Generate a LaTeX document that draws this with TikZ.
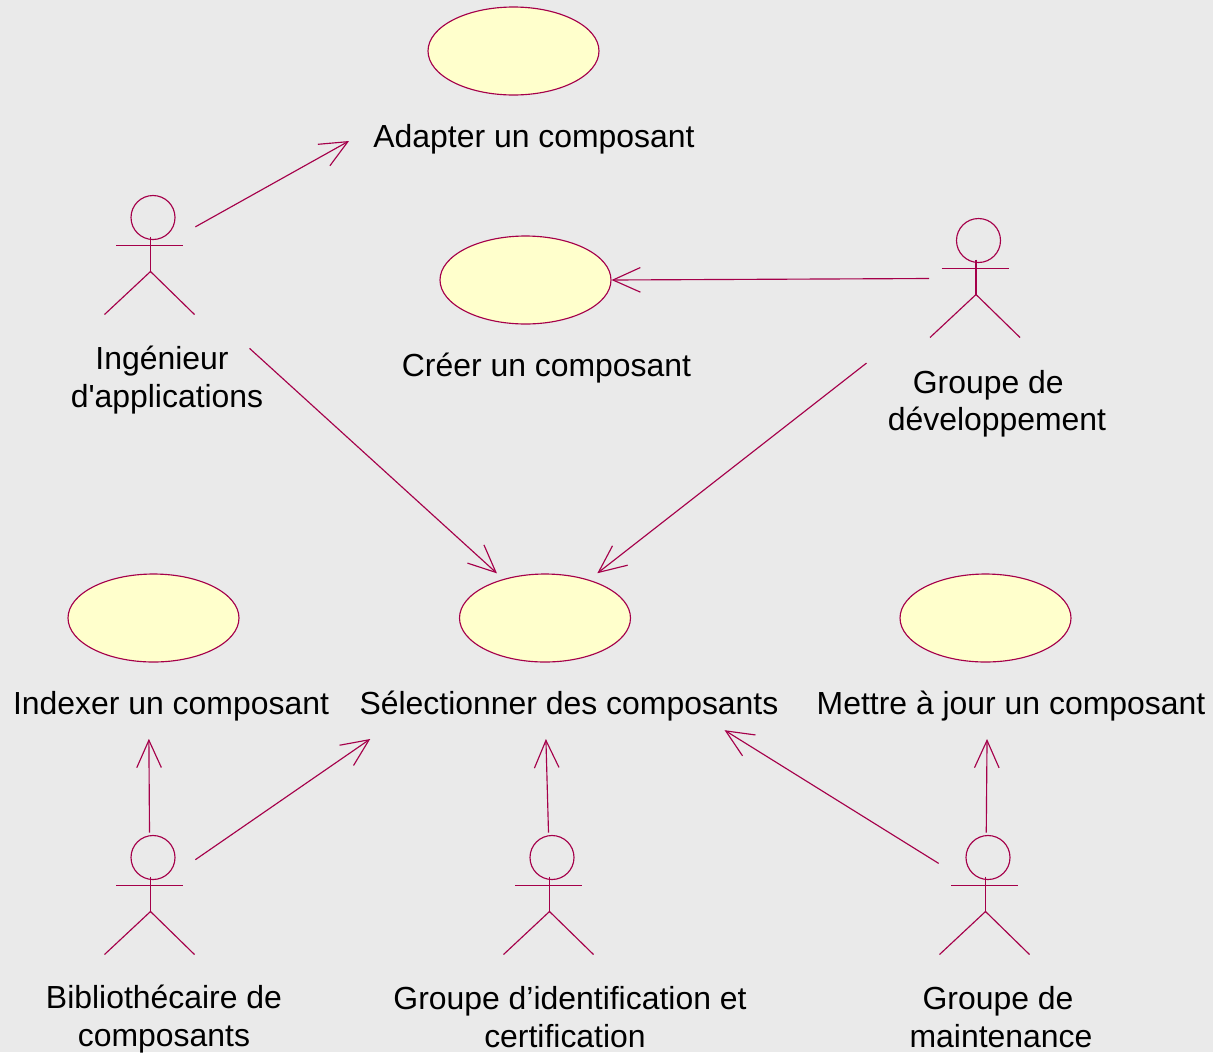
\documentclass[tikz,border=0pt]{standalone}
\usepackage{fontspec}
\setmainfont{Liberation Sans}
\usepackage{xcolor}
\usetikzlibrary{arrows.meta,shapes.geometric}
\definecolor{umlred}{HTML}{A5004A}
\definecolor{umlyellow}{HTML}{FFFFCC}
\definecolor{umlgrey}{HTML}{EAEAEA}
\tikzset{
  umlline/.style={draw=umlred,line width=0.65pt},
  assoc/.style={umlline,-{Straight Barb[length=15.6pt,width=14pt]}},
  usecase/.style={ellipse,umlline,fill=umlyellow,minimum width=3.42cm,minimum height=1.76cm,inner sep=0pt},
  actorbox/.style={minimum width=1.82cm,minimum height=2.38cm,inner sep=0pt,outer ysep=2pt},
  lbl/.style={font=\fontsize{18.17}{21.2}\selectfont,align=center,inner xsep=26*0.5692pt,inner ysep=10pt}
}
\begin{document}
\begin{tikzpicture}[x=0.02cm,y=-0.02cm]
\fill[umlgrey] (0,0) rectangle (1213,1052);
\useasboundingbox (0,0) rectangle (1213,1052);
% use cases
\foreach \n/\x/\y in {adapter/513.5/51, creer/525.5/280, indexer/153.5/618, selection/545/618, mettre/985.5/618}
    \node[usecase] (\n) at (\x,\y) {};
% actors
\foreach \n/\x/\y in {ingenieur/149.5/255.5, developpement/975/278.5, bibliothecaire/149.5/895.5, identification/548.5/895.5, maintenance/984.5/895.5} {
    \node[actorbox] (\n) at (\x,\y) {};
    \draw[umlline] (\x+3.5,\y-38) circle (22);
    \draw[umlline] (\x+1,\y-19) -- (\x+1,\y+16);
    \draw[umlline] (\x-33.5,\y-10) -- (\x+33.5,\y-10);
    \draw[umlline] (\x-45,\y+59) -- (\x+1,\y+16) -- (\x+45,\y+59);
}
% labels
\node[lbl] (adapterlbl) at (534,139) {Adapter un composant};
\node[lbl] (creerlbl) at (546.5,368) {Créer un composant};
\node[lbl] (indexerlbl) at (171,706) {Indexer un composant};
\node[lbl] (selectionlbl) at (569,706) {Sélectionner des composants};
\node[lbl] (mettrelbl) at (1011,706) {Mettre à jour un composant};
\node[lbl] (ingenieurlbl) at (167,380) {Ingénieur\hspace*{5.7pt}\\d\textquotesingle applications};
\node[lbl] (developpementlbl) at (997,403.5) {Groupe de\hspace*{10pt}\\développement};
\node[lbl] (bibliothecairelbl) at (164,1019) {Bibliothécaire de\\composants};
\node[lbl] (identificationlbl) at (570,1017) {Groupe d’identification et\\certification\hspace*{5.7pt}};
\node[lbl] (maintenancelbl) at (1001,1017) {Groupe de\hspace*{3.4pt}\\maintenance};
% associations
\foreach \a/\b in {developpement.west/creer.east, bibliothecaire.north/indexerlbl.236.7, identification.north/selectionlbl.235.6}
    \draw[assoc] (\a) -- (\b);
\draw[assoc] (bibliothecaire.38) -- ([xshift=37*0.5692pt]selectionlbl.south west);
\draw[assoc] (ingenieur.32) -- ([shift={(2,2)}]adapterlbl.west);
\draw[assoc] ([xshift=1pt]maintenance.north) -- (mettrelbl.234.5);
\draw[assoc,shorten >=4.8pt] ([shift={(-40,20)}]ingenieurlbl.north east) -- (selection.137.5);
\draw[assoc,shorten >=6pt] ([shift={(5,11)}]developpementlbl.north west) -- (selection.41.4);
\draw[assoc,shorten >=-9.5pt] (maintenance.145) -- (selectionlbl.-11.8);
\end{tikzpicture}
\end{document}
